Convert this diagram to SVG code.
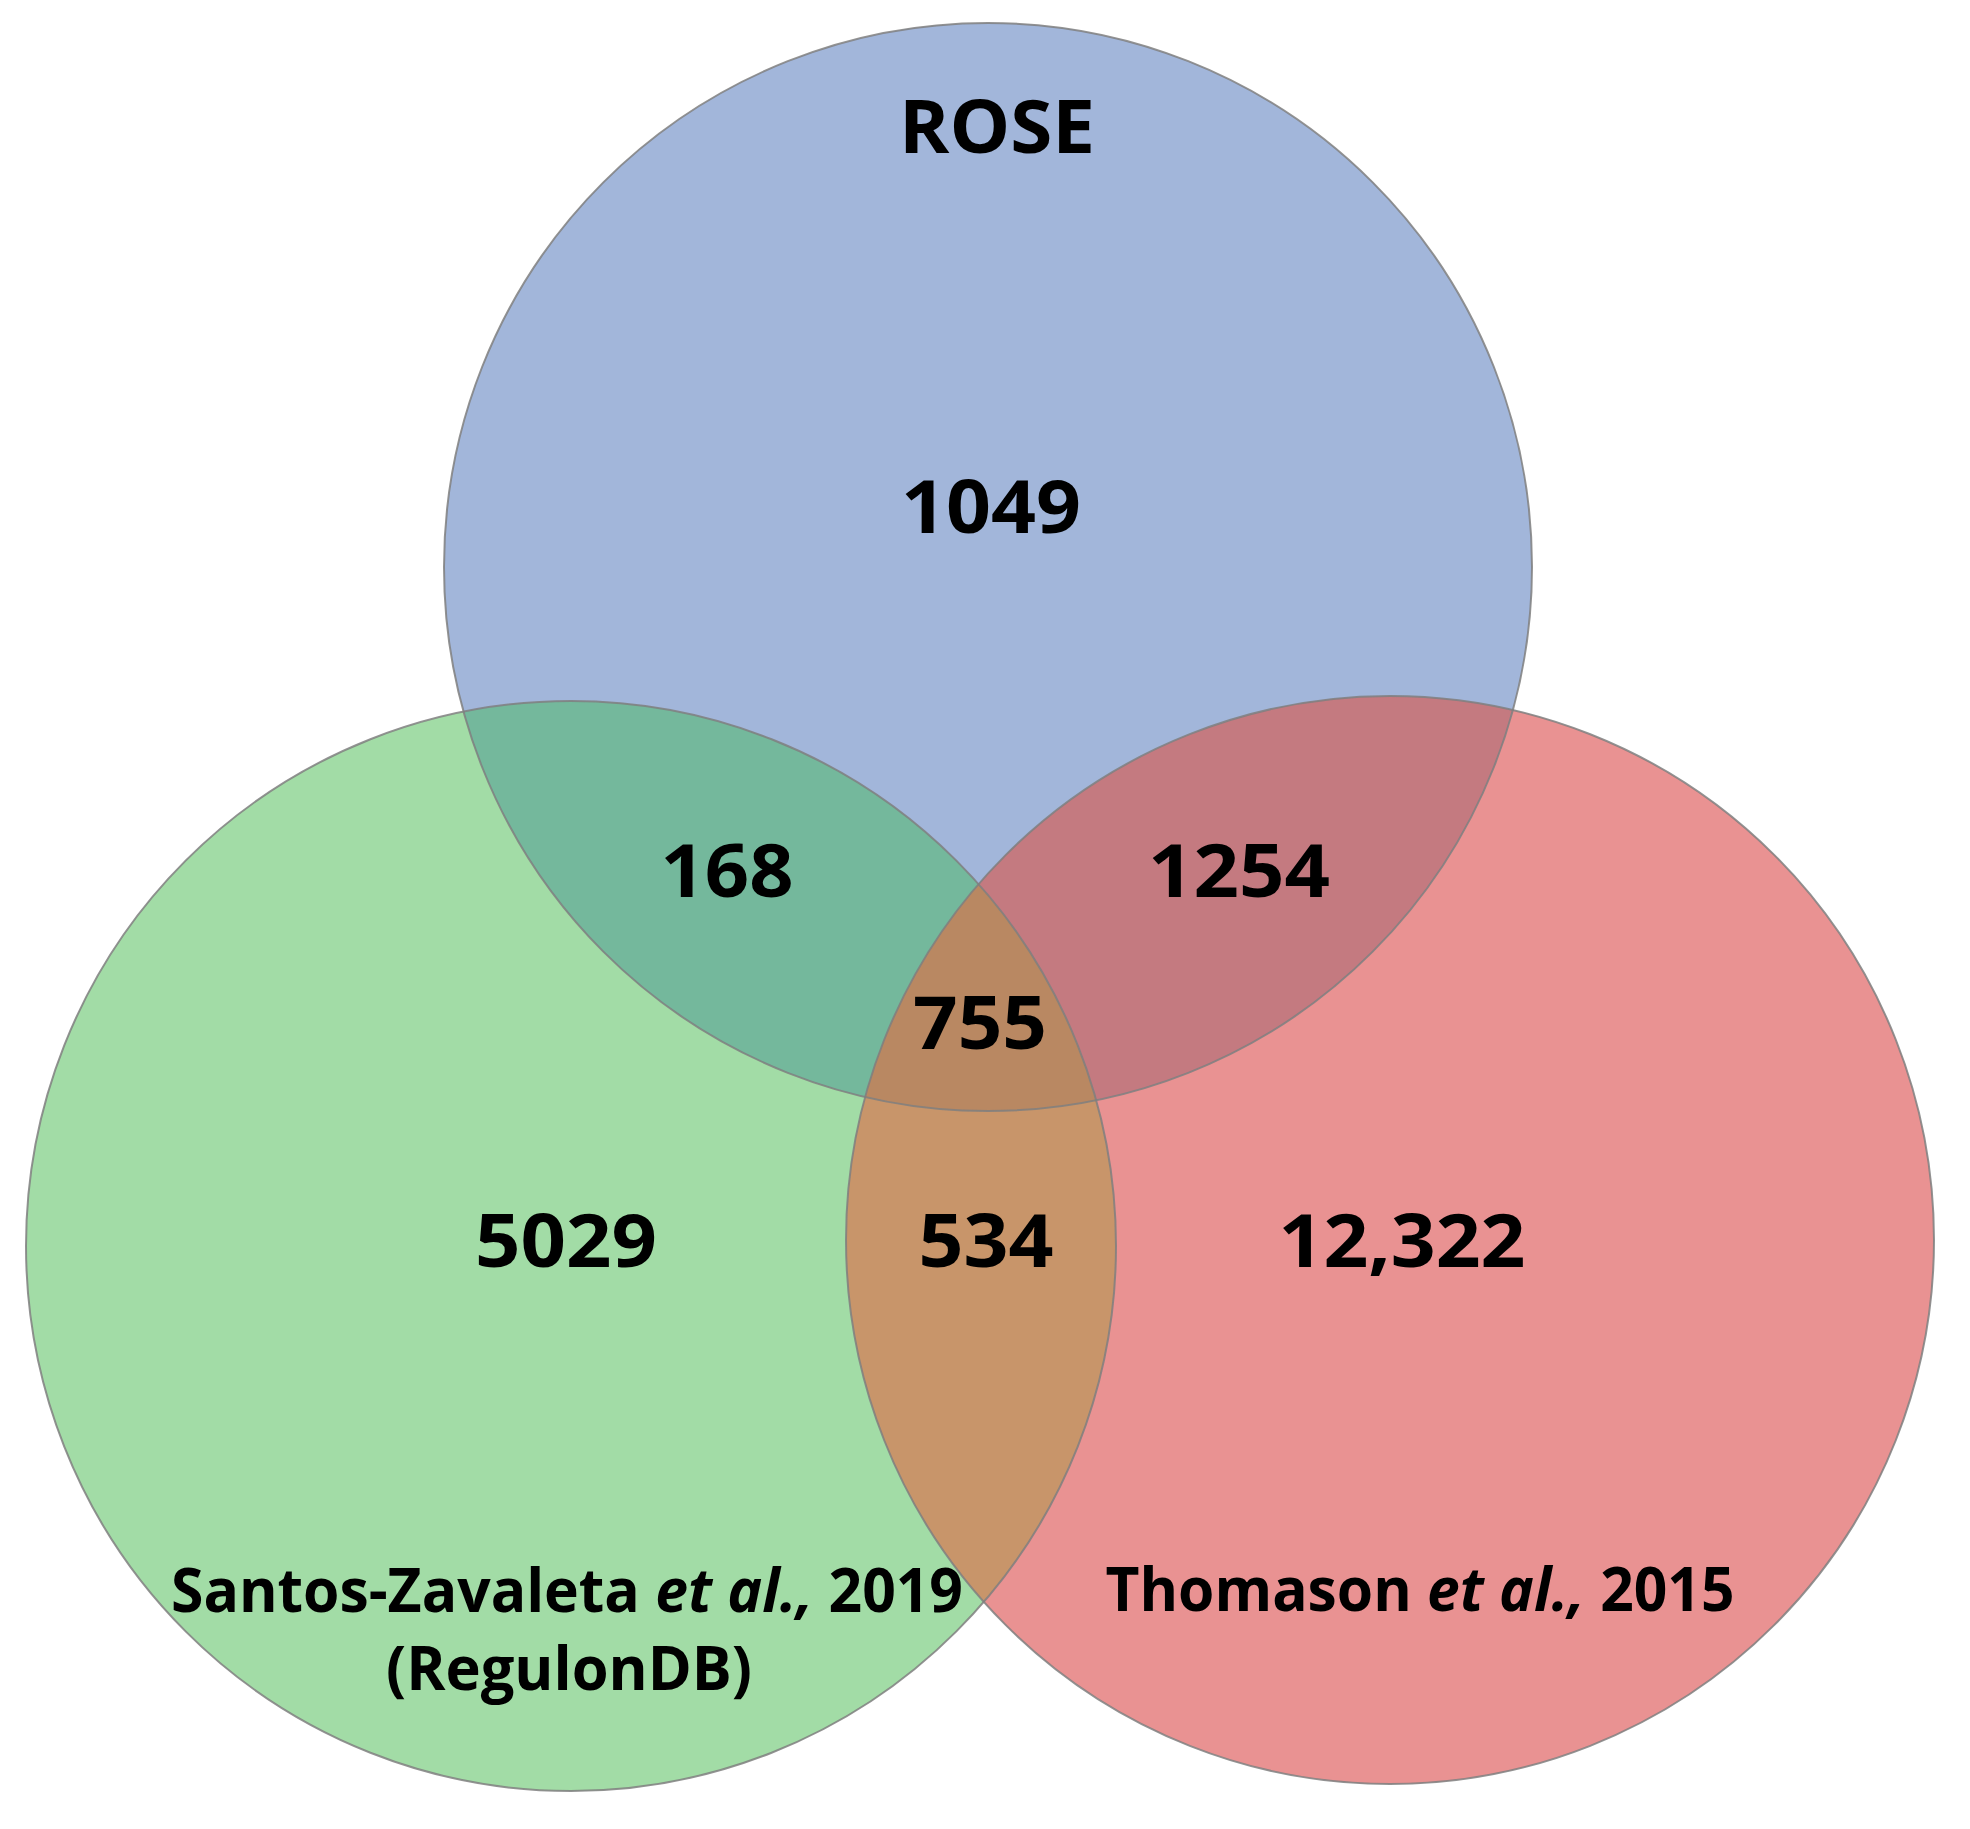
<svg xmlns="http://www.w3.org/2000/svg" width="1970" height="1829" viewBox="0 0 1970 1829">
  <style>
    .num { font-family: "Open Sans", "Noto Sans", sans-serif; font-weight: bold; font-size: 74px; fill: #000; text-anchor: middle; }
    .lbl { font-family: "Open Sans", "Noto Sans", sans-serif; font-weight: bold; font-size: 60px; fill: #000; text-anchor: middle; }
    .edge { fill: none; stroke: #7f7f7f; stroke-width: 2; stroke-opacity: 0.85; }
  </style>
  <defs>
    <clipPath id="clipBlue"><circle cx="988" cy="567" r="544"/></clipPath>
    <clipPath id="clipGreen"><circle cx="571" cy="1246" r="545"/></clipPath>
    <clipPath id="clipRed"><circle cx="1390" cy="1240" r="544"/></clipPath>
  </defs>
  <rect width="1970" height="1829" fill="#ffffff"/>

  <g id="set-green">
    <circle cx="571" cy="1246" r="545" fill="#A2DCA6"/>
  </g>
  <g id="set-red">
    <circle cx="1390" cy="1240" r="544" fill="#E99292"/>
  </g>
  <g id="set-blue">
    <circle cx="988" cy="567" r="544" fill="#A2B6DA"/>
  </g>

  <g id="overlaps">
    <g clip-path="url(#clipBlue)"><circle cx="571" cy="1246" r="545" fill="#74B89C"/></g>
    <g clip-path="url(#clipBlue)"><circle cx="1390" cy="1240" r="544" fill="#C47A80"/></g>
    <g clip-path="url(#clipGreen)"><circle cx="1390" cy="1240" r="544" fill="#C8956A"/></g>
    <g clip-path="url(#clipBlue)"><g clip-path="url(#clipGreen)"><circle cx="1390" cy="1240" r="544" fill="#B98862"/></g></g>
  </g>

  <g id="edges">
    <circle class="edge" cx="571" cy="1246" r="545"/>
    <circle class="edge" cx="1390" cy="1240" r="544"/>
    <circle class="edge" cx="988" cy="567" r="544"/>
  </g>

  <g id="labels">
    <text id="label-rose" class="num" x="997" y="153" font-size="78" textLength="196" lengthAdjust="spacingAndGlyphs">ROSE</text>
    <text id="label-santos" class="lbl" x="567" y="1612" textLength="792" lengthAdjust="spacingAndGlyphs">Santos-Zavaleta <tspan font-style="italic">et al.,</tspan> 2019</text>
    <text id="label-regulondb" class="lbl" x="569" y="1690" textLength="366" lengthAdjust="spacingAndGlyphs">(RegulonDB)</text>
    <text id="label-thomason" class="lbl" x="1420" y="1611" textLength="629" lengthAdjust="spacingAndGlyphs">Thomason <tspan font-style="italic">et al.,</tspan> 2015</text>
  </g>

  <g id="counts">
    <text id="n-rose" class="num" x="991" y="533" textLength="180" lengthAdjust="spacingAndGlyphs">1049</text>
    <text id="n-rose-santos" class="num" x="727" y="897" textLength="133" lengthAdjust="spacingAndGlyphs">168</text>
    <text id="n-rose-thomason" class="num" x="1239" y="897" textLength="182" lengthAdjust="spacingAndGlyphs">1254</text>
    <text id="n-all" class="num" x="980" y="1049" textLength="134" lengthAdjust="spacingAndGlyphs">755</text>
    <text id="n-santos" class="num" x="566" y="1267" textLength="182" lengthAdjust="spacingAndGlyphs">5029</text>
    <text id="n-santos-thomason" class="num" x="986" y="1267" textLength="135" lengthAdjust="spacingAndGlyphs">534</text>
    <text id="n-thomason" class="num" x="1402" y="1267" textLength="247" lengthAdjust="spacingAndGlyphs">12,322</text>
  </g>
</svg>
